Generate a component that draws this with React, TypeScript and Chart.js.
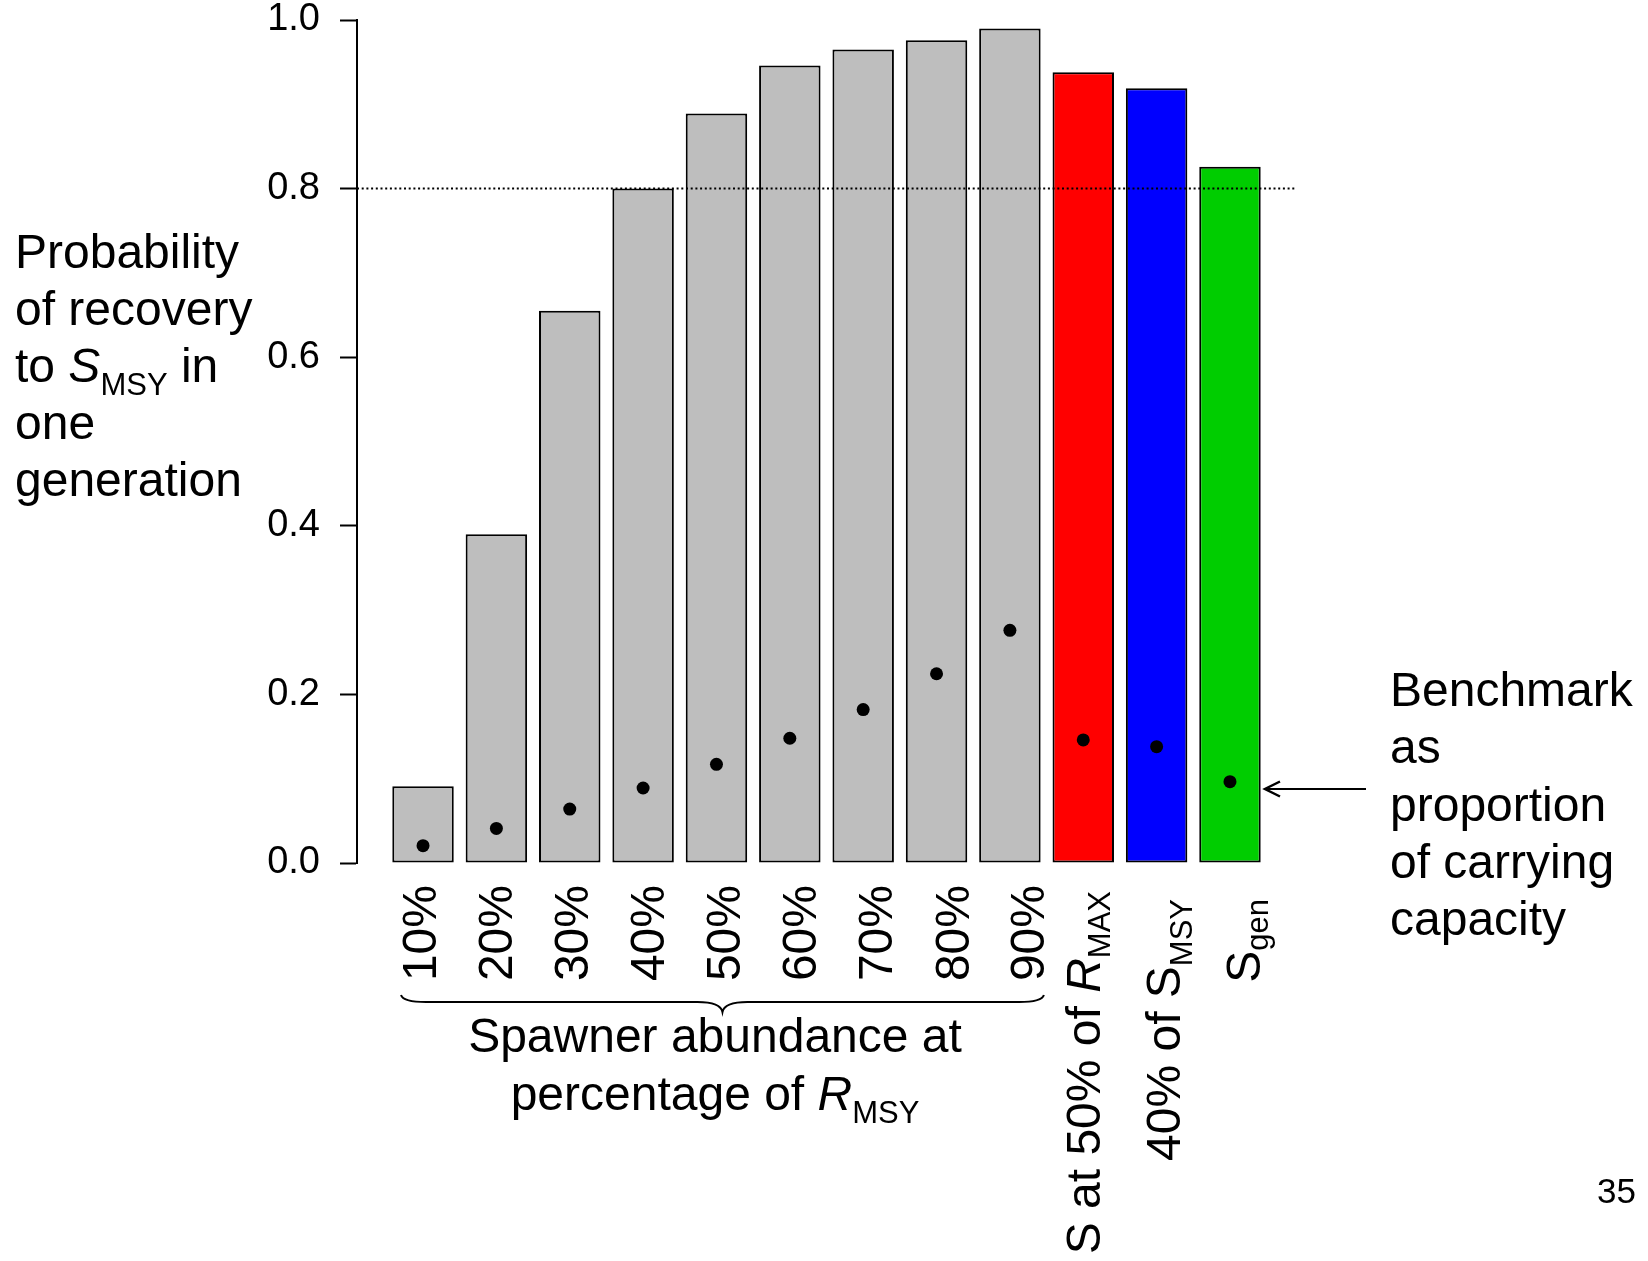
import React, { useEffect, useRef } from 'react';
import { Chart, registerables } from 'chart.js';

Chart.register(...registerables);

// ---------------- data ----------------
const categories = ['10%', '20%', '30%', '40%', '50%', '60%', '70%', '80%', '90%', 'S at 50% of R_MAX', '40% of S_MSY', 'S_gen'];
const recoveryProbability = [0.091, 0.39, 0.655, 0.8, 0.889, 0.946, 0.965, 0.976, 0.99, 0.938, 0.919, 0.826];
const benchmarkProportion = [0.0205, 0.041, 0.064, 0.089, 0.117, 0.148, 0.182, 0.2245, 0.276, 0.146, 0.138, 0.0965];
const recoveryTarget = 0.8;
const yTickValues = [0, 0.2, 0.4, 0.6, 0.8, 1.0];
const benchmarkNote = ['Benchmark', 'as', 'proportion', 'of carrying', 'capacity'];
const pageNumber = '35';

// ---------------- styles ----------------
const FONT = '"Liberation Sans", Arial, Helvetica, sans-serif';
const BAR_COLORS = ['#BEBEBE', '#BEBEBE', '#BEBEBE', '#BEBEBE', '#BEBEBE', '#BEBEBE', '#BEBEBE', '#BEBEBE', '#BEBEBE', '#FF0000', '#0000FF', '#00CD00'];
const LABEL_NUDGE_PX = [13, 16, 18, 21, 24, 26, 29, 32, 34, 17, 23, 30];
const LABEL_END_PX = [22, 22, 22, 22, 22, 22, 22, 22, 22, 28, 36, 36];
const SUB_DY = [0, 0, 0, 0, 0, 0, 0, 0, 0, 10, 12, 8];
const TEXT_SIZE = 48;
const SUB_SIZE = 31;

type Seg = { t: string; size: number; italic?: boolean; dy?: number };

const fontStr = (s: Seg) => `${s.italic ? 'italic ' : ''}${s.size}px ${FONT}`;

function drawRich(ctx: CanvasRenderingContext2D, segs: Seg[], x: number, y: number, align: 'left' | 'center' | 'right') {
  const widths = segs.map((s) => {
    ctx.font = fontStr(s);
    return ctx.measureText(s.t).width;
  });
  const total = widths.reduce((a, b) => a + b, 0);
  let cx = align === 'left' ? x : align === 'center' ? x - total / 2 : x - total;
  ctx.textAlign = 'left';
  ctx.textBaseline = 'alphabetic';
  segs.forEach((s, i) => {
    ctx.font = fontStr(s);
    ctx.fillText(s.t, cx, y + (s.dy ?? 0));
    cx += widths[i];
  });
  return total;
}

function labelSegs(label: string, size: number, subSize: number, dy: number): Seg[] {
  const k = label.indexOf('_');
  if (k < 0) return [{ t: label, size }];
  const base = label.slice(0, k);
  const sub = label.slice(k + 1);
  const sym = base.slice(-1);
  const pre = base.slice(0, -1);
  const segs: Seg[] = [];
  if (pre) segs.push({ t: pre, size });
  segs.push({ t: sym, size, italic: sym === 'R' });
  segs.push({ t: sub, size: subSize, dy });
  return segs;
}

const annotationPlugin = {
  id: 'annotations',
  afterDraw(chart: any) {
    const ctx: CanvasRenderingContext2D = chart.ctx;
    const xs = chart.scales.x;
    const area = chart.chartArea;
    ctx.save();
    ctx.fillStyle = '#000';
    ctx.strokeStyle = '#000';

    // rotated category labels
    const baselines: number[] = [];
    categories.forEach((lab, i) => {
      const bx = xs.getPixelForValue(i) + LABEL_NUDGE_PX[i];
      baselines.push(bx);
      const endY = area.bottom + LABEL_END_PX[i];
      ctx.save();
      ctx.translate(bx, endY);
      ctx.rotate(-Math.PI / 2);
      drawRich(ctx, labelSegs(lab, TEXT_SIZE, SUB_SIZE, SUB_DY[i]), 0, 0, 'right');
      ctx.restore();
    });

    // brace under percentage labels
    const bl = baselines[0] - 35;
    const br = baselines[8];
    const bm = (bl + br) / 2;
    const top = area.bottom + 132;
    const mid = top + 7;
    const tip = top + 17;
    ctx.lineWidth = 2;
    ctx.beginPath();
    ctx.moveTo(bl, top);
    ctx.quadraticCurveTo(bl + 2, mid, bl + 25, mid);
    ctx.lineTo(bm - 25, mid);
    ctx.quadraticCurveTo(bm - 2, mid, bm, tip);
    ctx.quadraticCurveTo(bm + 2, mid, bm + 25, mid);
    ctx.lineTo(br - 25, mid);
    ctx.quadraticCurveTo(br - 2, mid, br, top);
    ctx.stroke();

    // x-axis title
    drawRich(ctx, [{ t: 'Spawner abundance at', size: TEXT_SIZE }], 715, 1052, 'center');
    drawRich(
      ctx,
      [
        { t: 'percentage of ', size: TEXT_SIZE },
        { t: 'R', size: TEXT_SIZE, italic: true },
        { t: 'MSY', size: SUB_SIZE, dy: 13 },
      ],
      715,
      1110,
      'center'
    );

    // y-axis title
    const yLines: Seg[][] = [
      [{ t: 'Probability', size: TEXT_SIZE }],
      [{ t: 'of recovery', size: TEXT_SIZE }],
      [
        { t: 'to ', size: TEXT_SIZE },
        { t: 'S', size: TEXT_SIZE, italic: true },
        { t: 'MSY', size: SUB_SIZE, dy: 13 },
        { t: ' in', size: TEXT_SIZE },
      ],
      [{ t: 'one', size: TEXT_SIZE }],
      [{ t: 'generation', size: TEXT_SIZE }],
    ];
    yLines.forEach((segs, k) => drawRich(ctx, segs, 15, 268 + 57 * k, 'left'));

    // benchmark note + arrow
    benchmarkNote.forEach((line, k) => drawRich(ctx, [{ t: line, size: TEXT_SIZE }], 1390, 706 + 57.3 * k, 'left'));
    const ay = 789;
    const tipX = xs.getPixelForValue(11) + 35;
    ctx.lineWidth = 2;
    ctx.beginPath();
    ctx.moveTo(1366, ay);
    ctx.lineTo(tipX, ay);
    ctx.stroke();
    ctx.lineWidth = 2.5;
    ctx.beginPath();
    ctx.moveTo(tipX + 15, ay - 7.5);
    ctx.lineTo(tipX, ay);
    ctx.lineTo(tipX + 15, ay + 7.5);
    ctx.stroke();

    // page number
    drawRich(ctx, [{ t: pageNumber, size: 35 }], 1597, 1203, 'left');
    ctx.restore();
  },
};

export default function App() {
  const canvasRef = useRef<HTMLCanvasElement | null>(null);

  useEffect(() => {
    if (!canvasRef.current) return;
    const chart = new Chart(canvasRef.current, {
      type: 'bar',
      data: {
        datasets: [
          {
            type: 'line',
            label: 'Benchmark as proportion of carrying capacity',
            data: benchmarkProportion.map((v, i) => ({ x: i, y: v })),
            showLine: false,
            pointRadius: 6.5,
            pointBackgroundColor: '#000',
            pointBorderWidth: 0,
            order: 0,
          } as any,
          {
            type: 'line',
            label: 'Target',
            data: [
              { x: -0.9, y: recoveryTarget },
              { x: 11.9, y: recoveryTarget },
            ],
            borderColor: '#000',
            borderWidth: 2,
            borderDash: [2, 2.7],
            pointRadius: 0,
            order: 1,
          } as any,
          {
            type: 'bar',
            label: 'Probability of recovery',
            data: recoveryProbability.map((v, i) => ({ x: i, y: v })),
            backgroundColor: BAR_COLORS,
            borderColor: '#000',
            borderWidth: 2,
            borderSkipped: false,
            barPercentage: 0.838,
            categoryPercentage: 1,
            order: 2,
          } as any,
        ],
      },
      options: {
        animation: false,
        responsive: true,
        maintainAspectRatio: false,
        layout: { padding: { left: 0, top: 20, right: 352, bottom: 398 } },
        plugins: { legend: { display: false }, tooltip: { enabled: false } },
        scales: {
          x: {
            type: 'linear',
            display: false,
            offset: false,
            min: -0.9,
            max: 11.9,
            afterBuildTicks: (s: any) => {
              s.ticks = categories.map((_, i) => ({ value: i }));
            },
          },
          y: {
            type: 'linear',
            min: 0,
            max: 1,
            afterBuildTicks: (s: any) => {
              s.ticks = yTickValues.map((v) => ({ value: v }));
            },
            afterFit: (s: any) => {
              s.width = 357;
              s.paddingTop = 0;
              s.paddingBottom = 0;
            },
            border: { display: true, color: '#000', width: 2 },
            grid: {
              drawOnChartArea: false,
              drawTicks: true,
              tickLength: 17,
              tickWidth: 2,
              tickColor: '#000',
              color: '#000',
            },
            ticks: {
              color: '#000',
              padding: 20,
              font: { family: FONT, size: 38, lineHeight: 1 },
              callback: (v: any) => Number(v).toFixed(1),
            },
          },
        },
      } as any,
      plugins: [annotationPlugin],
    });
    return () => chart.destroy();
  }, []);

  return (
    <div style={{ position: 'fixed', left: 0, top: 0, width: '1648px', height: '1261px', background: '#fff' }}>
      <canvas ref={canvasRef} />
    </div>
  );
}
